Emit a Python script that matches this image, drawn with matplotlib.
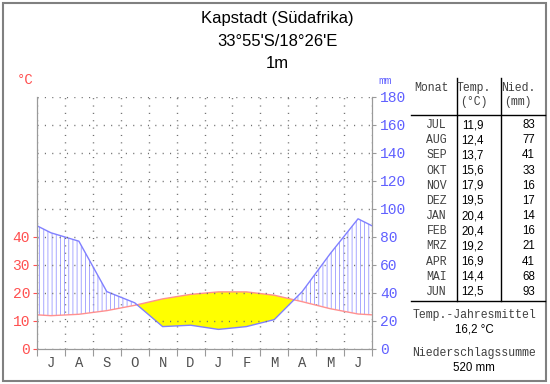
import numpy as np
import matplotlib
matplotlib.use('Agg')
import matplotlib.pyplot as plt
from matplotlib.lines import Line2D
from matplotlib.patches import Rectangle

# Klimadaten Kapstadt (Juli bis Juni)
monat_kurz = ['J', 'A', 'S', 'O', 'N', 'D', 'J', 'F', 'M', 'A', 'M', 'J']
monat_tab = ['JUL', 'AUG', 'SEP', 'OKT', 'NOV', 'DEZ',
             'JAN', 'FEB', 'MRZ', 'APR', 'MAI', 'JUN']
temp = [11.9, 12.4, 13.7, 15.6, 17.9, 19.5, 20.4, 20.4, 19.2, 16.9, 14.4, 12.5]
nied = [83, 77, 41, 33, 16, 17, 14, 16, 21, 41, 68, 93]

titel = ['Kapstadt (Südafrika)', "33°55'S/18°26'E", '1m']

W, H = 550, 384
mono = 'Liberation Mono'
sans = 'Liberation Sans'
rot_linie = '#ff9090'
rot_text = '#ff5050'
blau_linie = '#8080ff'
blau_text = '#6060ff'
grau = '#9a9a9a'

plt.rcParams['hatch.linewidth'] = 0.6

fig = plt.figure(figsize=(W / 100, H / 100), dpi=100)

def fx(px):
    return px / W

def fy(py):
    return 1 - py / H

# Diagramm
ax = fig.add_axes([fx(37), fy(349), fx(372) - fx(37), fy(97) - fy(349)])
ax.set_facecolor('none')

# Monate periodisch fortsetzen, Achse schneidet am Rand ab
x = np.arange(-1, 13)
t = np.array([temp[-1]] + temp + [temp[0]])
p = np.array([nied[-1]] + nied + [nied[0]]) / 2.0

ax.fill_between(x, t, p, where=p >= t, interpolate=True, facecolor='none',
                edgecolor='#9a9aff', hatch='||||', linewidth=0, zorder=2)
ax.fill_between(x, t, p, where=t >= p, interpolate=True, facecolor='#ffff00',
                edgecolor='none', linewidth=0, zorder=2)
ax.plot(x, t, color=rot_linie, lw=1.0, zorder=3)
ax.plot(x, p, color=blau_linie, lw=1.0, zorder=3)

ax.set_xlim(-0.5, 11.5)
ax.set_ylim(0, 90)

# x-Achse: Striche an Monatsgrenzen, Beschriftung in Monatsmitte
ax.set_xticks(np.arange(-0.5, 12.0, 1.0))
ax.set_xticklabels([])
ax.set_xticks(np.arange(12), minor=True)
ax.set_xticklabels(monat_kurz, minor=True, family=mono, fontsize=10, color='#505050')
ax.tick_params(axis='x', which='major', length=5, color=grau, direction='out')
ax.tick_params(axis='x', which='minor', length=0, pad=5)
ax.xaxis.grid(True, which='major', color='#707070', linestyle=(0, (0.8, 4.5)), lw=1.0)
ax.set_axisbelow(True)

# linke Achse (Temperatur)
ax.set_yticks(np.arange(0, 50, 10))
ax.set_yticklabels([str(v) for v in range(0, 50, 10)], family=mono, fontsize=10.5,
                   color=rot_text)
ax.tick_params(axis='y', length=3, color=rot_text, pad=2)

ax.spines['top'].set_visible(False)
for s in ['left', 'right', 'bottom']:
    ax.spines[s].set_color(grau)

# rechte Achse (Niederschlag)
ax2 = ax.twinx()
ax2.set_ylim(0, 180)
ax2.set_yticks(np.arange(0, 200, 20))
ax2.set_yticklabels([str(v) for v in range(0, 200, 20)], family=mono, fontsize=10.5,
                    color=blau_text)
ax2.tick_params(axis='y', length=3, color=grau, pad=3)
ax2.yaxis.grid(True, color='#707070', linestyle=(0, (0.8, 4.5)), lw=1.0)
ax2.spines['top'].set_visible(False)
for s in ['left', 'right', 'bottom']:
    ax2.spines[s].set_color(grau)

fig.text(fx(25), fy(80), '°C', family=mono, fontsize=10, color=rot_text,
         ha='center', va='center')
fig.text(fx(385), fy(81), 'mm', family=mono, fontsize=8, color=blau_text,
         ha='center', va='center')

# Titel
for zeile, y in zip(titel, [18, 42, 64]):
    fig.text(fx(277), fy(y), zeile, family=sans, fontsize=12, color='black',
             ha='center', va='center')

# Tabelle
kopf = dict(family=mono, fontsize=8.3, color='#404040', ha='center', va='center')
fig.text(fx(431), fy(88), 'Monat', **kopf)
fig.text(fx(474), fy(88), 'Temp.', **kopf)
fig.text(fx(474), fy(102), '(°C)', **kopf)
fig.text(fx(518), fy(88), 'Nied.', **kopf)
fig.text(fx(518), fy(102), '(mm)', **kopf)

zeile_y = np.linspace(125, 292, len(monat_tab))
for m, tv, nv, y in zip(monat_tab, temp, nied, zeile_y):
    fig.text(fx(447), fy(y), m, family=mono, fontsize=8.3, color='#404040',
             ha='right', va='center')
    fig.text(fx(484), fy(y), f'{tv:.1f}'.replace('.', ','), family=sans,
             fontsize=8.3, color='black', ha='right', va='center')
    fig.text(fx(535), fy(y), str(nv), family=sans, fontsize=8.3, color='black',
             ha='right', va='center')

linie = dict(color='black', lw=1.0, transform=fig.transFigure)
fig.add_artist(Line2D([fx(457), fx(457)], [fy(78), fy(301)], **linie))
fig.add_artist(Line2D([fx(501), fx(501)], [fy(78), fy(301)], **linie))
fig.add_artist(Line2D([fx(411), fx(545)], [fy(115), fy(115)], **linie))
fig.add_artist(Line2D([fx(411), fx(545)], [fy(301), fy(301)], **linie))

mittel = np.mean(temp)
summe = int(np.sum(nied))
fig.text(fx(474), fy(315), 'Temp.-Jahresmittel', family=mono, fontsize=8.3,
         color='#404040', ha='center', va='center')
fig.text(fx(474), fy(330), f'{mittel:.1f} °C'.replace('.', ','), family=sans,
         fontsize=8.3, color='black', ha='center', va='center')
fig.text(fx(474), fy(353), 'Niederschlagssumme', family=mono, fontsize=8.3,
         color='#404040', ha='center', va='center')
fig.text(fx(474), fy(368), f'{summe} mm', family=sans, fontsize=8.3,
         color='black', ha='center', va='center')

# Rahmen
fig.add_artist(Rectangle((fx(2.5), fy(380.5)), fx(546) - fx(2.5), fy(2.5) - fy(380.5),
                         transform=fig.transFigure, fill=False, edgecolor='#808080',
                         lw=1.5))

fig.savefig('out.png', dpi=100)
